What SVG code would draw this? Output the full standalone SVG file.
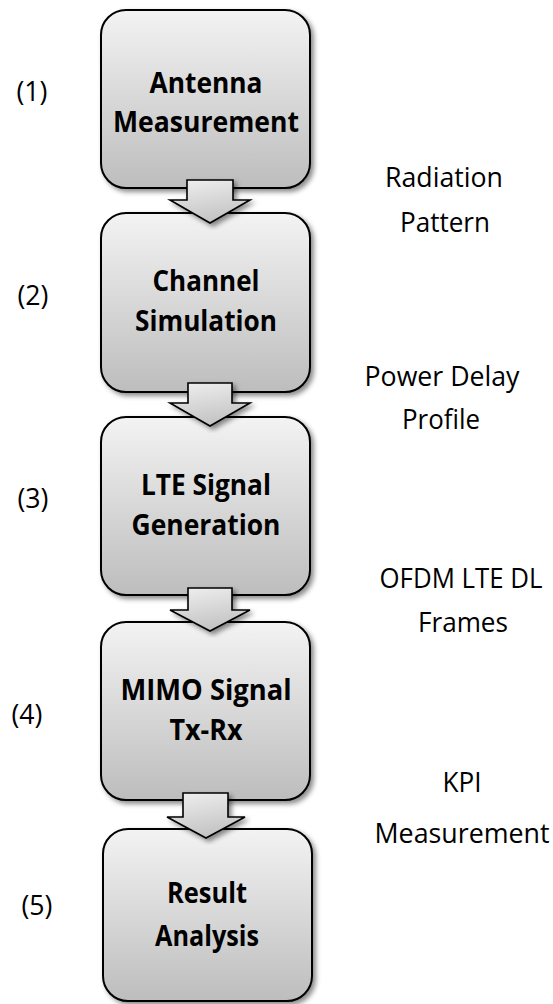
<svg xmlns="http://www.w3.org/2000/svg" width="553" height="1004" viewBox="0 0 553 1004">
  <style>
    .box { fill: url(#boxFill); stroke: #000; stroke-width: 2; filter: url(#shadow); }
    .arrow { fill: url(#arrowFill); stroke: #000; stroke-width: 1.6; stroke-linejoin: miter; filter: url(#shadow); }
    .title { font-family: "Open Sans", "DejaVu Sans", sans-serif; font-weight: bold; font-size: 29px; fill: #000; text-anchor: middle; }
    .note { font-family: "Open Sans", "DejaVu Sans", sans-serif; font-size: 27px; fill: #000; text-anchor: middle; }
  </style>
  <defs>
    <linearGradient id="boxFill" x1="0" y1="0" x2="0" y2="1">
      <stop offset="0" stop-color="#f3f3f3"/>
      <stop offset="1" stop-color="#bdbdbd"/>
    </linearGradient>
    <linearGradient id="arrowFill" x1="0" y1="0" x2="0.3" y2="1">
      <stop offset="0" stop-color="#f0f0f0"/>
      <stop offset="1" stop-color="#c4c4c4"/>
    </linearGradient>
    <filter id="shadow" x="-10%" y="-10%" width="125%" height="125%">
      <feDropShadow dx="3" dy="3" stdDeviation="2.5" flood-color="#000" flood-opacity="0.45"/>
    </filter>
  </defs>

  <!-- process steps -->
  <g id="step1">
    <rect class="box" x="101" y="10" width="209" height="178" rx="25"/>
    <text class="title" x="206" y="93" textLength="113" lengthAdjust="spacingAndGlyphs">Antenna</text>
    <text class="title" x="206" y="132" textLength="186" lengthAdjust="spacingAndGlyphs">Measurement</text>
  </g>
  <g id="step2">
    <rect class="box" x="101" y="213" width="209" height="179" rx="25"/>
    <text class="title" x="206" y="291" textLength="107" lengthAdjust="spacingAndGlyphs">Channel</text>
    <text class="title" x="206" y="331" textLength="142" lengthAdjust="spacingAndGlyphs">Simulation</text>
  </g>
  <g id="step3">
    <rect class="box" x="101" y="417" width="209" height="178" rx="25"/>
    <text class="title" x="206" y="495" textLength="130" lengthAdjust="spacingAndGlyphs">LTE Signal</text>
    <text class="title" x="206" y="535" textLength="149" lengthAdjust="spacingAndGlyphs">Generation</text>
  </g>
  <g id="step4">
    <rect class="box" x="101" y="622" width="209" height="178" rx="25"/>
    <text class="title" x="206" y="700" textLength="171" lengthAdjust="spacingAndGlyphs">MIMO Signal</text>
    <text class="title" x="206" y="740" textLength="73" lengthAdjust="spacingAndGlyphs">Tx-Rx</text>
  </g>
  <g id="step5">
    <rect class="box" x="103" y="829" width="209" height="172" rx="25"/>
    <text class="title" x="207" y="903" textLength="80" lengthAdjust="spacingAndGlyphs">Result</text>
    <text class="title" x="207" y="946" textLength="104" lengthAdjust="spacingAndGlyphs">Analysis</text>
  </g>

  <!-- block arrows between steps -->
  <g id="connectors">
    <path class="arrow" d="M187,180 H233 V200 H250 L210,223 L170,200 H187 Z"/>
    <path class="arrow" d="M188,383 H232 V403 H250 L210,426 L170,403 H188 Z"/>
    <path class="arrow" d="M188,588 H232 V610 H250 L210,631 L170,610 H188 Z"/>
    <path class="arrow" d="M183,793 H228 V817 H245 L206,838 L167,817 H183 Z"/>
  </g>

  <!-- step numbers -->
  <g id="numbers">
    <text class="note" x="32" y="101" textLength="31" lengthAdjust="spacingAndGlyphs">(1)</text>
    <text class="note" x="33" y="305" textLength="31" lengthAdjust="spacingAndGlyphs">(2)</text>
    <text class="note" x="33" y="508" textLength="31" lengthAdjust="spacingAndGlyphs">(3)</text>
    <text class="note" x="27" y="724" textLength="31" lengthAdjust="spacingAndGlyphs">(4)</text>
    <text class="note" x="37" y="915" textLength="31" lengthAdjust="spacingAndGlyphs">(5)</text>
  </g>

  <!-- data passed between steps -->
  <g id="data-labels">
    <text class="note" x="444" y="187" textLength="118" lengthAdjust="spacingAndGlyphs">Radiation</text>
    <text class="note" x="445" y="232" textLength="90" lengthAdjust="spacingAndGlyphs">Pattern</text>
    <text class="note" x="442" y="386" textLength="155" lengthAdjust="spacingAndGlyphs">Power Delay</text>
    <text class="note" x="441" y="429" textLength="78" lengthAdjust="spacingAndGlyphs">Profile</text>
    <text class="note" x="461" y="588" textLength="163" lengthAdjust="spacingAndGlyphs">OFDM LTE DL</text>
    <text class="note" x="463" y="632" textLength="90" lengthAdjust="spacingAndGlyphs">Frames</text>
    <text class="note" x="462" y="792" textLength="39" lengthAdjust="spacingAndGlyphs">KPI</text>
    <text class="note" x="462" y="843" textLength="175" lengthAdjust="spacingAndGlyphs">Measurement</text>
  </g>
</svg>
